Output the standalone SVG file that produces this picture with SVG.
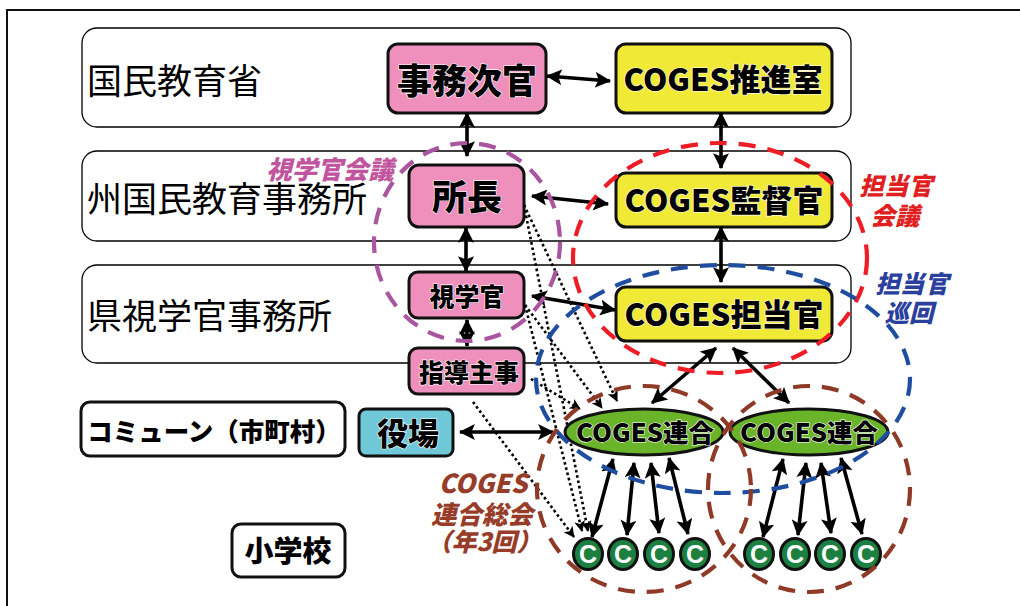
<svg xmlns="http://www.w3.org/2000/svg" width="1020" height="606" viewBox="0 0 1020 606">
<style>
text{font-family:"Noto Sans CJK JP","Noto Sans",sans-serif;text-anchor:middle}
.band{fill:#fff;stroke:#000;stroke-width:1.3}
.lab{font-size:35px;font-weight:400;text-anchor:start}
.node{stroke:#111;stroke-width:3}
.t{font-weight:900;fill:#000;stroke:#fff;stroke-width:1.2;paint-order:stroke}
.p{fill:#ee90bb}.y{fill:#f0e935}.c{fill:#6fc8d8}.g{fill:#6ab42a}.w{fill:#fff}
.dg{fill:#1b8040;stroke:#111;stroke-width:3}
.ct{font-family:"Liberation Sans",sans-serif;font-size:25px;font-weight:700;fill:#fff}
.arr{fill:none;stroke:#000;stroke-width:3.6;marker-start:url(#h);marker-end:url(#h)}
.dot{fill:none;stroke:#000;stroke-width:2.6;stroke-dasharray:2.6 2.8;marker-end:url(#d)}
.ring{fill:none;stroke-width:4.2;stroke-dasharray:17 12}
.it{font-weight:900;font-style:italic}
</style>
<defs>
<marker id="h" viewBox="0 0 14 14" refX="13" refY="7" markerWidth="16" markerHeight="16" markerUnits="userSpaceOnUse" orient="auto-start-reverse"><path d="M0 0L14 7L0 14L3 7Z" fill="#000"/></marker>
<marker id="d" viewBox="0 0 12 12" refX="11" refY="6" markerWidth="11" markerHeight="11" markerUnits="userSpaceOnUse" orient="auto"><path d="M0 0L12 6L0 12L3 6Z" fill="#000"/></marker>
</defs>
<rect width="1020" height="606" fill="#fff"/>
<path d="M7 606V10H1020" fill="none" stroke="#111" stroke-width="2"/>
<g id="bands">
<rect class="band" x="82" y="28" width="769" height="99" rx="15"/>
<rect class="band" x="82" y="151" width="769" height="90" rx="15"/>
<rect class="band" x="82" y="265" width="769" height="98" rx="15"/>
<text class="lab" x="87" y="94">国民教育省</text>
<text class="lab" x="87" y="212">州国民教育事務所</text>
<text class="lab" x="87" y="329">県視学官事務所</text>
</g>
<g id="n-commune"><rect class="node w" x="81" y="402" width="264" height="54" rx="9"/><text class="t" x="214" y="441" font-size="25.500">コミューン（市町村）</text></g>
<g id="n-school"><rect class="node w" x="232" y="524" width="113" height="53" rx="9"/><text class="t" x="288" y="562" font-size="29">小学校</text></g>
<g id="n-jimujikan"><rect class="node p" x="388" y="44" width="158" height="69" rx="10"/><text class="t" x="467" y="94" font-size="35">事務次官</text></g>
<g id="n-suishin"><rect class="node y" x="616" y="44" width="216" height="69" rx="10"/><text class="t" x="723" y="91" font-size="31">COGES推進室</text></g>
<g id="n-shocho"><rect class="node p" x="409" y="165" width="115" height="62" rx="10"/><text class="t" x="467" y="210" font-size="35">所長</text></g>
<g id="n-kantoku"><rect class="node y" x="616" y="173" width="216" height="54" rx="10"/><text class="t" x="724" y="212" font-size="31">COGES監督官</text></g>
<g id="n-shigakukan"><rect class="node p" x="409" y="272" width="115" height="46" rx="9"/><text class="t" x="467" y="306" font-size="25">視学官</text></g>
<g id="n-tanto"><rect class="node y" x="616" y="287" width="216" height="54" rx="10"/><text class="t" x="724" y="326" font-size="31">COGES担当官</text></g>
<g id="n-shido"><rect class="node p" x="409" y="348" width="115" height="46" rx="9"/><text class="t" x="469" y="382" font-size="25">指導主事</text></g>
<g id="n-yakuba"><rect class="node c" x="359" y="409" width="94" height="47" rx="7"/><text class="t" x="408" y="445" font-size="31">役場</text></g>
<g id="connectors">
<path class="arr" d="M547 76L610 81"/>
<path class="arr" d="M467 113V156"/>
<path class="arr" d="M466 228V271"/>
<path class="arr" d="M467 320V346"/>
<path class="arr" d="M532 196L608 204"/>
<path class="arr" d="M532 296L615 310"/>
<path class="arr" d="M721 113V168"/>
<path class="arr" d="M721 227V282"/>
<path class="arr" d="M716 348L652 403"/>
<path class="arr" d="M733 348L789 403"/>
<path class="arr" d="M460 432H553"/>
<path class="arr" d="M613 459L592 537"/>
<path class="arr" d="M634 463L627 535"/>
<path class="arr" d="M651 463L659 533"/>
<path class="arr" d="M669 458L688 534"/>
<path class="arr" d="M783 459L763 537"/>
<path class="arr" d="M806 463L798 535"/>
<path class="arr" d="M821 463L831 533"/>
<path class="arr" d="M841 458L862 534"/>
<path class="dot" d="M524 205L617 401"/>
<path class="dot" d="M524 205L588 531"/>
<path class="dot" d="M525 305L602 408"/>
<path class="dot" d="M525 305L582 531"/>
<path class="dot" d="M531 379L580 409"/>
<path class="dot" d="M473 402L574 537"/>
</g>
<g id="n-rengo1"><ellipse class="node g" cx="644" cy="432" rx="79" ry="23"/><text class="t" x="645" y="442" font-size="25.500">COGES連合</text></g>
<g id="n-rengo2"><ellipse class="node g" cx="809" cy="432" rx="79" ry="23"/><text class="t" x="809" y="442" font-size="25.500">COGES連合</text></g>
<g id="n-c1"><ellipse class="dg" cx="588" cy="554" rx="14.500" ry="15.500"/><text class="ct" x="588" y="563">C</text></g>
<g id="n-c2"><ellipse class="dg" cx="623" cy="554" rx="14.500" ry="15.500"/><text class="ct" x="623" y="563">C</text></g>
<g id="n-c3"><ellipse class="dg" cx="659" cy="554" rx="14.500" ry="15.500"/><text class="ct" x="659" y="563">C</text></g>
<g id="n-c4"><ellipse class="dg" cx="695" cy="554" rx="14.500" ry="15.500"/><text class="ct" x="695" y="563">C</text></g>
<g id="n-c5"><ellipse class="dg" cx="759" cy="554" rx="14.500" ry="15.500"/><text class="ct" x="759" y="563">C</text></g>
<g id="n-c6"><ellipse class="dg" cx="795" cy="554" rx="14.500" ry="15.500"/><text class="ct" x="795" y="563">C</text></g>
<g id="n-c7"><ellipse class="dg" cx="830" cy="554" rx="14.500" ry="15.500"/><text class="ct" x="830" y="563">C</text></g>
<g id="n-c8"><ellipse class="dg" cx="866" cy="554" rx="14.500" ry="15.500"/><text class="ct" x="866" y="563">C</text></g>
<g id="rings">
<ellipse class="ring" stroke="#a9559f" cx="467" cy="242" rx="93" ry="99"/>
<ellipse class="ring" stroke="#ee1c25" cx="720" cy="258" rx="147" ry="115"/>
<ellipse class="ring" stroke="#1f4ea1" cx="723" cy="379" rx="187" ry="114"/>
<ellipse class="ring" stroke="#8e3a27" cx="644" cy="489" rx="107" ry="103"/>
<ellipse class="ring" stroke="#8e3a27" cx="809" cy="489" rx="101" ry="103"/>
</g>
<g id="labels">
<text class="it" x="330" y="179" font-size="25.500" fill="#c0559e">視学官会議</text>
<text class="it" x="896" y="195" font-size="24.500" fill="#e02020">担当官</text>
<text class="it" x="895" y="225" font-size="24.500" fill="#e02020">会議</text>
<text class="it" x="912" y="293" font-size="24.500" fill="#2b3f9e">担当官</text>
<text class="it" x="909" y="322" font-size="24.500" fill="#2b3f9e">巡回</text>
<text class="it" x="483" y="493" font-size="26" fill="#963c28">COGES</text>
<text class="it" x="482" y="524" font-size="25.500" fill="#963c28">連合総会</text>
<text class="it" x="484" y="551" font-size="25" fill="#963c28">（年3回）</text>
</g>
</svg>
